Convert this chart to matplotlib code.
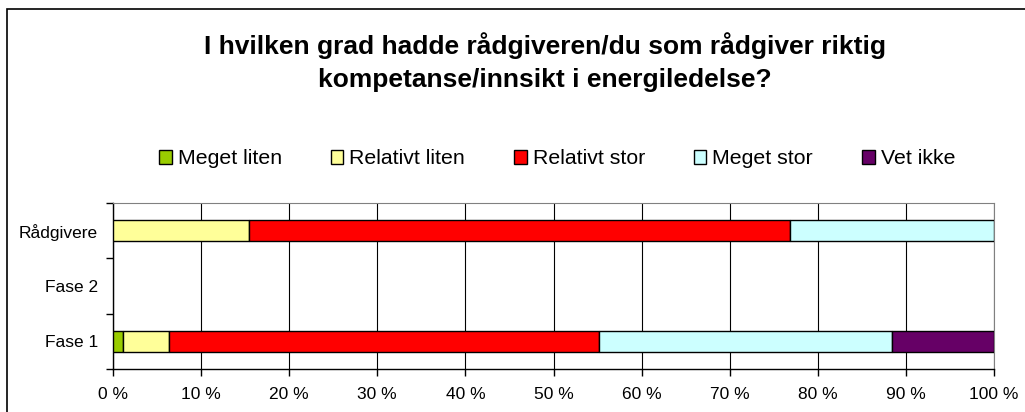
import numpy as np
import matplotlib
matplotlib.use('Agg')
import matplotlib.pyplot as plt
from matplotlib.patches import Rectangle

plt.rcParams['font.family'] = ['Liberation Sans', 'DejaVu Sans']

GROUPS = ['Fase 1', 'Fase 2', 'Rådgivere']
SERIES = ['Meget liten', 'Relativt liten', 'Relativt stor', 'Meget stor', 'Vet ikke']
COLORS = ['#99cc00', '#ffff99', '#ff0000', '#ccffff', '#660066']
# percent per group (Fase 1, Fase 2, Rådgivere) - Fase 2 has no answers
meget_liten = [1.1, 0, 0]
relativt_liten = [5.3, 0, 15.4]
relativt_stor = [48.8, 0, 61.5]
meget_stor = [33.2, 0, 23.1]
vet_ikke = [11.6, 0, 0]
VALUES = [meget_liten, relativt_liten, relativt_stor, meget_stor, vet_ikke]

fig = plt.figure(figsize=(10.25, 4.12), dpi=100)
ax = fig.add_axes([113 / 1025, 1 - 369 / 412, 881 / 1025, 166 / 412])

y = np.arange(len(GROUPS))
left = np.zeros(len(GROUPS))
for name, vals, col in zip(SERIES, VALUES, COLORS):
    vals = np.array(vals, dtype=float)
    nz = vals > 0   # skip empty segments so no stray edge is drawn
    ax.barh(y[nz], vals[nz], left=left[nz], height=0.385, color=col, edgecolor='black',
            linewidth=1.0, label=name, zorder=3)
    left += vals

ax.set_xlim(0, 100)
ax.set_ylim(-0.5, 2.5)
ax.set_xticks(np.arange(0, 101, 10))
ax.set_xticklabels([f'{v} %' for v in range(0, 101, 10)], fontsize=12.5)
ax.set_yticks(y)
ax.set_yticklabels(GROUPS, fontsize=12.5)
ax.set_yticks([-0.5, 0.5, 1.5, 2.5], minor=True)
ax.tick_params(axis='y', which='major', length=0, pad=10.8)
ax.tick_params(axis='y', which='minor', length=5, width=1, direction='out')
ax.tick_params(axis='x', length=5, width=1, direction='out', pad=8)
ax.grid(axis='x', color='black', linewidth=0.8, zorder=0)
for s in ['top', 'right']:
    ax.spines[s].set_color('#808080')
    ax.spines[s].set_linewidth(0.8)
for s in ['left', 'bottom']:
    ax.spines[s].set_color('black')
    ax.spines[s].set_linewidth(1.0)

fig.text(545 / 1025, 1 - 62 / 412,
         'I hvilken grad hadde rådgiveren/du som rådgiver riktig\nkompetanse/innsikt i energiledelse?',
         ha='center', va='center', fontsize=19, fontweight='bold', linespacing=1.48)

handles, labels = ax.get_legend_handles_labels()
fig.legend(handles, labels, loc='center', bbox_to_anchor=(557 / 1025, 1 - 159 / 412),
           ncol=5, frameon=False, fontsize=15.3, handlelength=0.6, handleheight=0.6,
           handletextpad=0.28, columnspacing=2.3, borderpad=0)

fig.patches.append(Rectangle((7 / 1025, -0.05), 1.1, 1 - 9 / 412 + 0.05,
                             transform=fig.transFigure, fill=False,
                             edgecolor='black', linewidth=1.2))

fig.savefig('out.png', dpi=100)
